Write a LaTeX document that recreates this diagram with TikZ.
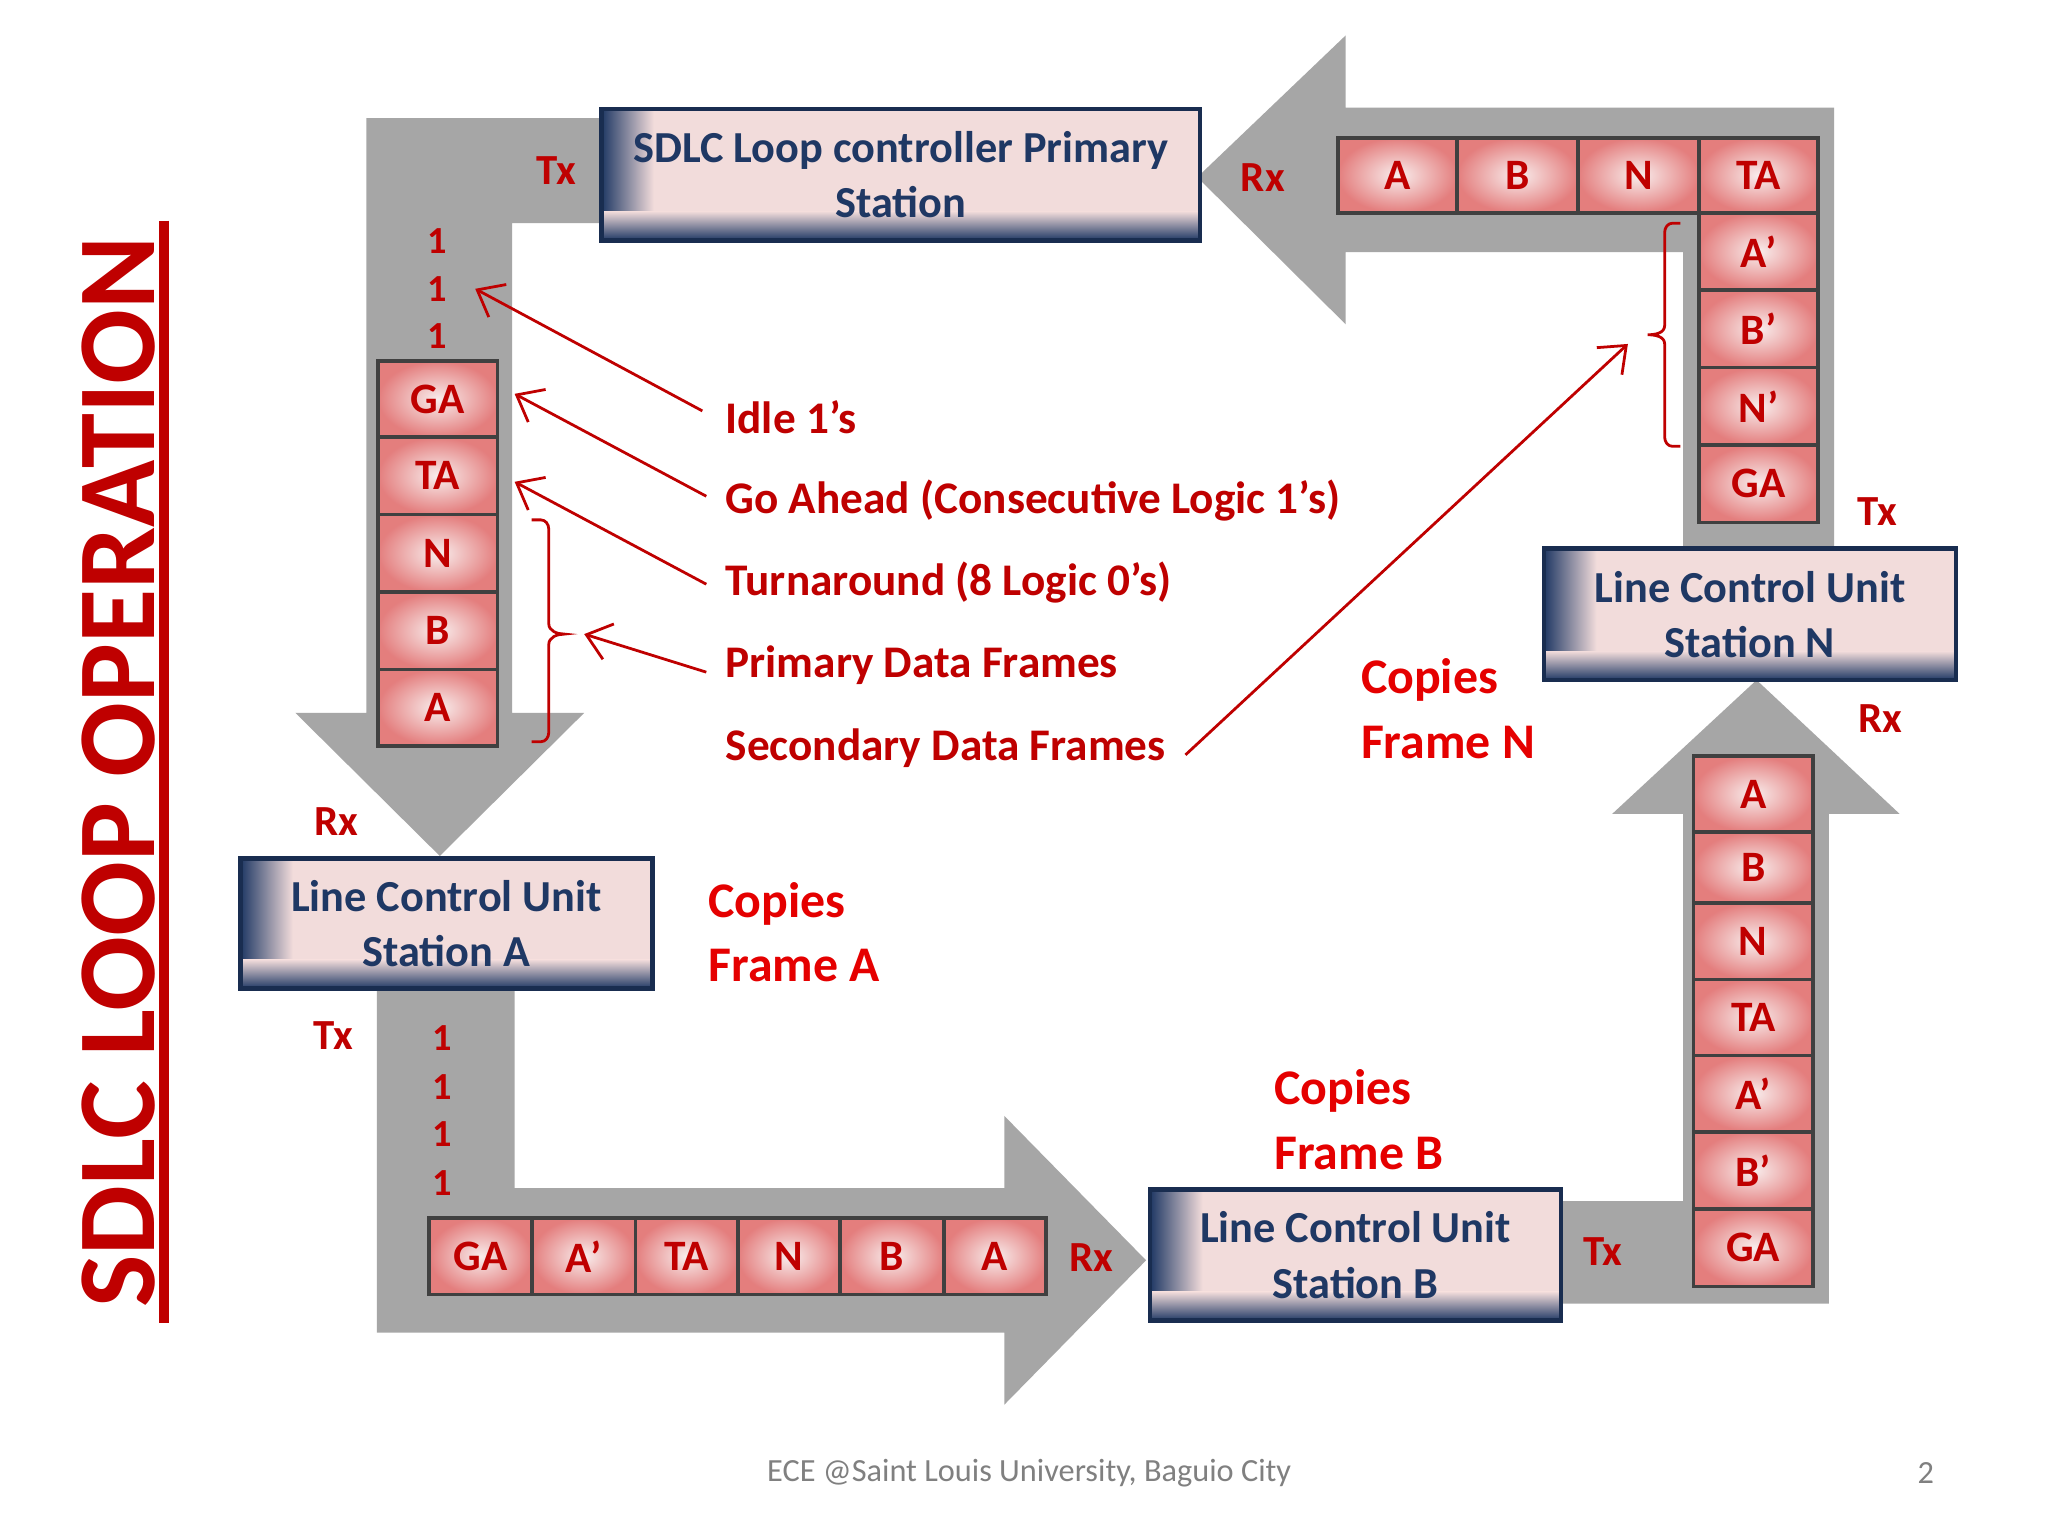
\documentclass[tikz,border=0pt]{standalone}
\usepackage{fontspec}
\setmainfont{Carlito}
\usetikzlibrary{arrows.meta}
\begin{document}
\begin{tikzpicture}[x=0.01cm,y=-0.01cm,
  band/.style={fill=gray!70,draw=none},
  lbl/.style={text=red!75!black,font=\fontsize{9.8pt}{11pt}\selectfont\bfseries,anchor=west,inner sep=0},
  txrx/.style={text=red!75!black,font=\fontsize{9.3pt}{11pt}\selectfont\bfseries,inner sep=0},
  one/.style={text=red!75!black,font=\fontsize{8.3pt}{9pt}\selectfont\bfseries,inner sep=0},
  cp/.style={text=red!90!black,font=\fontsize{10.8pt}{13pt}\selectfont\bfseries,anchor=west,align=left,inner sep=0},
  arr/.style={draw=red!75!black,line width=0.6pt,-{Straight Barb[length=5pt,width=8pt]}},
  brace/.style={draw=red!75!black,line width=0.6pt}]
\definecolor{pinkbox}{HTML}{F2DCDB}
\definecolor{navy}{HTML}{1F3864}
\definecolor{cellred}{HTML}{E06666}
\useasboundingbox (0,0) rectangle (1560,1170);
\fill[white] (0,0) rectangle (1560,1170);
% gray arrows
\fill[band] (279,90)--(460,90)--(460,170)--(390,170)--(390,543)--(445,543)--(335,652)--(225,543)--(279,543)--cycle;
\fill[band] (287,752)--(392,752)--(392,905)--(765,905)--(765,850)--(873,960)--(765,1070)--(765,1015)--(287,1015)--cycle;
\fill[band] (1189,915)--(1282,915)--(1282,620)--(1228,620)--(1338,518)--(1447,620)--(1393,620)--(1393,993)--(1189,993)--cycle;
\fill[band] (1282,418)--(1282,192)--(1025,192)--(1025,247)--(912,135)--(1025,27)--(1025,82)--(1397,82)--(1397,418)--cycle;
% station boxes
\newcommand{\stbox}[6]{% name x1 y1 x2 y2 text
  \fill[pinkbox] (#2,#3) rectangle (#4,#5);
  \shade[left color=navy,right color=pinkbox] (#2,#3) rectangle (#2+40,#5);
  \shade[top color=pinkbox,bottom color=navy] (#2,#5-22) rectangle (#4,#5);
  \draw[navy!80!black,line width=1pt] (#2,#3) rectangle (#4,#5);
  \node[text=navy,font=\fontsize{9.6pt}{12pt}\selectfont\bfseries,align=center] (#1) at ({(#2+#4)/2},{(#3+#5)/2}) {#6};}
\stbox{ctl}{458}{83}{914}{183}{SDLC Loop controller Primary\\Station}
\stbox{lcua}{183}{654}{497}{753}{Line Control Unit\\Station A}
\stbox{lcub}{876}{906}{1189}{1006}{Line Control Unit\\Station B}
\stbox{lcun}{1176}{418}{1490}{518}{Line Control Unit\\Station N}
% cells
\newcommand{\cell}[6]{%
  \shade[inner color=pinkbox!50!white,outer color=cellred!80!pinkbox] (#2,#3) rectangle (#4,#5);
  \draw[black!75,line width=0.8pt] (#2,#3) rectangle (#4,#5);
  \node[text=red!75!black,font=\fontsize{9.4pt}{11pt}\selectfont\bfseries,inner sep=0] (#1) at ({(#2+#4)/2},{(#3+#5)/2}) {#6};}
% left column
\cell{l1}{288}{275}{379}{333}{GA}
\cell{l2}{288}{333}{379}{392}{TA}
\cell{l3}{288}{392}{379}{451}{N}
\cell{l4}{288}{451}{379}{510}{B}
\cell{l5}{288}{510}{379}{568}{A}
% bottom row
\cell{b1}{327}{928}{405}{986}{GA}
\cell{b2}{405}{928}{484}{986}{A’}
\cell{b3}{484}{928}{562}{986}{TA}
\cell{b4}{562}{928}{640}{986}{N}
\cell{b5}{640}{928}{719}{986}{B}
\cell{b6}{719}{928}{797}{986}{A}
% right column bottom
\cell{r1}{1290}{576}{1381}{634}{A}
\cell{r2}{1290}{634}{1381}{688}{B}
\cell{r3}{1290}{688}{1381}{746}{N}
\cell{r4}{1290}{746}{1381}{804}{TA}
\cell{r5}{1290}{804}{1381}{862}{A’}
\cell{r6}{1290}{862}{1381}{921}{B’}
\cell{r7}{1290}{921}{1381}{980}{GA}
% top row
\cell{t1}{1019}{105}{1110}{162}{A}
\cell{t2}{1110}{105}{1202}{162}{B}
\cell{t3}{1202}{105}{1294}{162}{N}
\cell{t4}{1294}{105}{1385}{162}{TA}
\cell{t5}{1294}{162}{1385}{221}{A’}
\cell{t6}{1294}{221}{1385}{280}{B’}
\cell{t7}{1294}{280}{1385}{339}{N’}
\cell{t8}{1294}{339}{1385}{398}{GA}
% ones
\node[one] (o1) at (333,184) {1};
\node[one] (o2) at (333,220) {1};
\node[one] (o3) at (333,256) {1};
\node[one] (o4) at (337,791) {1};
\node[one] (o5) at (337,828) {1};
\node[one] (o6) at (337,864) {1};
\node[one] (o7) at (337,901) {1};
% Tx Rx
\node[txrx] (tx1) at (424,130) {Tx};
\node[txrx] (rx1) at (962,135) {Rx};
\node[txrx] (tx2) at (1430,390) {Tx};
\node[txrx] (rx2) at (1432,547) {Rx};
\node[txrx] (rx3) at (256,626) {Rx};
\node[txrx] (tx3) at (254,789) {Tx};
\node[txrx] (rx4) at (831,958) {Rx};
\node[txrx] (tx4) at (1221,953) {Tx};
% labels
\node[lbl] (idle) at (552,318) {Idle 1’s};
\node[lbl] (ga) at (552,381) {Go Ahead (Consecutive Logic 1’s)};
\node[lbl] (ta) at (552,444) {Turnaround (8 Logic 0’s)};
\node[lbl] (pdf) at (552,507) {Primary Data Frames};
\node[lbl] (sdf) at (552,570) {Secondary Data Frames};
\coordinate (p1) at (362,220);
\coordinate (p2) at (392,300);
\coordinate (p3) at (392,367);
\coordinate (p4) at (445,483);
\coordinate (p5) at (1240,262);
\coordinate (s5) at (903,575);
\draw[arr] (535,313) -- (p1);
\draw[arr] (538,378) -- (p2);
\draw[arr] (538,445) -- (p3);
\draw[arr] (538,512) -- (p4);
\draw[arr] (s5) -- (p5);
% braces
\draw[brace] (405,396) -- (412,396) to[out=0,in=90] (418,403) -- (418,475) to[out=-90,in=180] (430,483) to[out=180,in=90] (418,491) -- (418,558) to[out=-90,in=0] (412,565) -- (405,565);
\draw[brace] (1280,170) -- (1274,170) to[out=180,in=90] (1268,177) -- (1268,248) to[out=-90,in=0] (1255,255) to[out=0,in=90] (1268,262) -- (1268,333) to[out=-90,in=180] (1274,340) -- (1280,340);
% copies
\node[cp] (cn) at (1036,540) {Copies\\[1pt]Frame N};
\node[cp] (ca) at (539,710) {Copies\\[1pt]Frame A};
\node[cp] (cb) at (970,853) {Copies\\[1pt]Frame B};
% title
\node[rotate=90,text=red!75!black,font=\fontsize{24pt}{28pt}\selectfont\bfseries,inner sep=0] (title) at (90,588) {SDLC LOOP OPERATION};
\draw[red!75!black,line width=2pt] (125,168) -- (125,1008);
% footer
\node[text=gray,font=\fontsize{7pt}{9pt}\selectfont] (foot) at (784,1122) {ECE @Saint Louis University, Baguio City};
\node[text=gray,font=\fontsize{7pt}{9pt}\selectfont] (pg) at (1467,1122) {2};
\end{tikzpicture}
\end{document}
